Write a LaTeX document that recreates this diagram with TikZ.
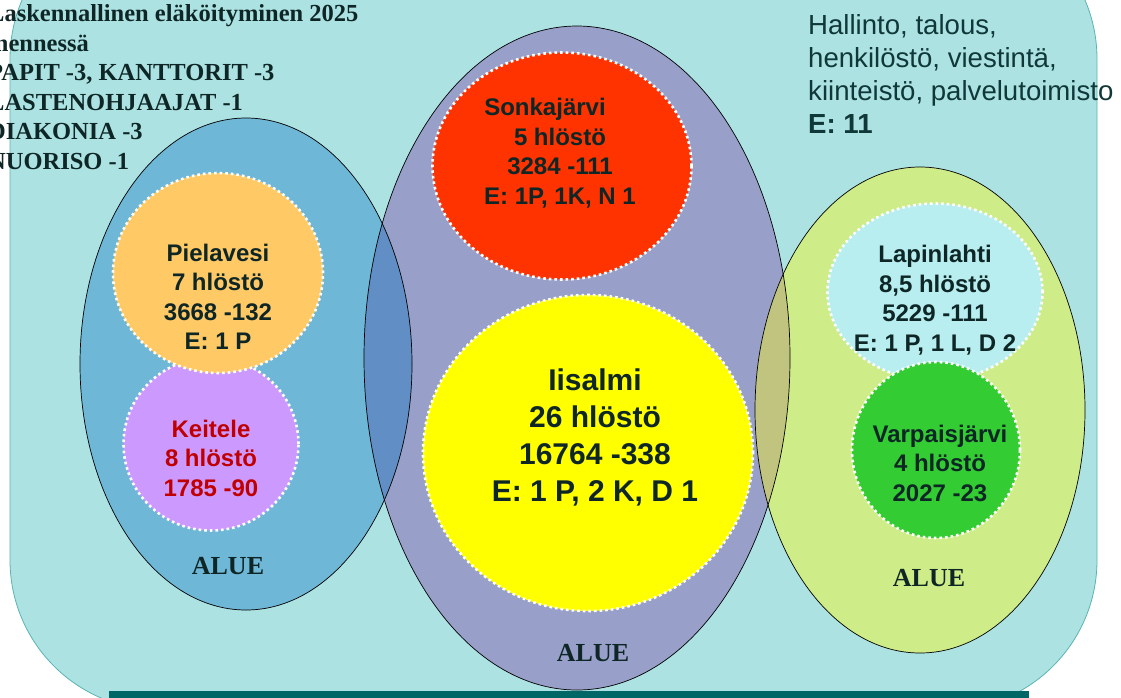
\documentclass[tikz,border=0pt]{standalone}
\usepackage{fontspec}
\setmainfont{Liberation Serif}
\newfontfamily\sansfont{Liberation Sans}
\usetikzlibrary{shapes, positioning}

\definecolor{bgteal}{HTML}{ACE2E2}
\definecolor{bgedge}{HTML}{5AB4B4}
\definecolor{stripteal}{HTML}{006666}
\definecolor{bluearea}{HTML}{6FB7D6}
\definecolor{purplearea}{HTML}{98A0CA}
\definecolor{greenarea}{HTML}{CEEC87}
\definecolor{bluemix}{HTML}{618FC5}
\definecolor{greenmix}{HTML}{C0C47E}
\definecolor{redtown}{HTML}{FF3300}
\definecolor{yellowtown}{HTML}{FFFF00}
\definecolor{orangetown}{HTML}{FFC966}
\definecolor{lilactown}{HTML}{CC99FF}
\definecolor{cyantown}{HTML}{B8EEF0}
\definecolor{greentown}{HTML}{33CC33}
\definecolor{txtdark}{HTML}{0F2626}
\definecolor{txtred}{HTML}{C00000}
\definecolor{txtstaff}{HTML}{103838}

\newcommand\townfont{\sansfont\bfseries\fontsize{24}{29.5}\selectfont}
\newcommand\bigtownfont{\sansfont\bfseries\fontsize{30}{37}\selectfont}
\newcommand\staffont{\sansfont\fontsize{27.6}{33}\selectfont}
\newcommand\retirefont{\bfseries\fontsize{24.5}{29.5}\selectfont}
\newcommand\aluefont{\bfseries\fontsize{26}{30}\selectfont}

\begin{document}
\begin{tikzpicture}[x=1pt, y=-1pt,
		town/.style={ellipse, draw=white, line width=2.6pt, dash pattern=on 2.6pt off 3pt, inner sep=0pt},
		towntext/.style={align=center, text=txtdark, font=\townfont},
		area/.style={draw=black, line width=0.7pt},
		alue/.style={text=txtdark, font=\aluefont}
	]
	\useasboundingbox (0,0) rectangle (1121,697);
	\filldraw [fill=bgteal, draw=bgedge, line width=0.8pt, rounded corners=150pt] (10,-91) rectangle (1097,710);

	% alueet
	\fill [purplearea] (577,358) ellipse [x radius=213, y radius=332];
	\fill [bluearea] (246,364) ellipse [x radius=166, y radius=246];
	\fill [greenarea] (920,410) ellipse [x radius=165, y radius=243];
	\begin{scope}
		\clip (577,358) ellipse [x radius=213, y radius=332];
		\fill [bluemix] (246,364) ellipse [x radius=166, y radius=246];
		\fill [greenmix] (920,410) ellipse [x radius=165, y radius=243];
	\end{scope}
	\draw [area] (577,358) ellipse [x radius=213, y radius=332];
	\draw [area] (246,364) ellipse [x radius=166, y radius=246];
	\draw [area] (920,410) ellipse [x radius=165, y radius=243];
	\fill [stripteal] (109,691) rectangle (1029,700);

	\node [town, fill=lilactown, minimum width=175pt, minimum height=173pt] (keitele) at (211,444) {};
	\node [town, fill=orangetown, minimum width=210pt, minimum height=200pt] (pielavesi) at (218,273) {};
	\node [town, fill=redtown, minimum width=259pt, minimum height=227pt] (sonkajarvi) at (562,166) {};
	\node [town, fill=yellowtown, minimum width=330pt, minimum height=316pt] (iisalmi) at (588,453) {};
	\node [town, fill=cyantown, minimum width=215pt, minimum height=177pt] (lapinlahti) at (935,292) {};
	\node [town, fill=greentown, minimum width=168pt, minimum height=176pt] (varpaisjarvi) at (936,450) {};

	\node [towntext] (pielavesiT) at (218,297) {Pielavesi\\ 7 hlöstö\\ 3668 -132\\ E: 1 P};
	\node [towntext, text=txtred] (keiteleT) at (211,458) {Keitele\\ 8 hlöstö\\ 1785 -90};
	\node [towntext] (sonkajarviT) at (560,153) {Sonkajärvi\hspace*{30pt}\\ 5 hlöstö\\ 3284 -111\\ E: 1P, 1K, N 1};
	\node [towntext, font=\bigtownfont] (iisalmiT) at (595,437) {Iisalmi\\ 26 hlöstö\\ 16764 -338\\ E: 1 P, 2 K, D 1};
	\node [towntext] (lapinlahtiT) at (935,300) {Lapinlahti\\ 8,5 hlöstö\\ 5229 -111\\ E: 1 P, 1 L, D 2};
	\node [towntext] (varpaisjarviT) at (940,463) {Varpaisjärvi\\ 4 hlöstö\\ 2027 -23};

	\node [alue] (alueW) at (228,566) {ALUE};
	\node [alue] (alueC) at (593,653) {ALUE};
	\node [alue] (alueE) at (929,578) {ALUE};

	\node [anchor=west, align=left, inner sep=0pt, text=txtdark, font=\retirefont] (retire) at (-12,87) {Laskennallinen eläköityminen 2025\\ mennessä\\ PAPIT -3, KANTTORIT -3\\ LASTENOHJAAJAT -1\\ DIAKONIA -3\\ NUORISO -1};
	\node [anchor=west, align=left, inner sep=0pt, text=txtstaff, font=\staffont] (hallinto) at (808,74) {Hallinto, talous,\\ henkilöstö, viestintä,\\ kiinteistö, palvelutoimisto\\ \textbf{E: 11}};
\end{tikzpicture}
\end{document}
